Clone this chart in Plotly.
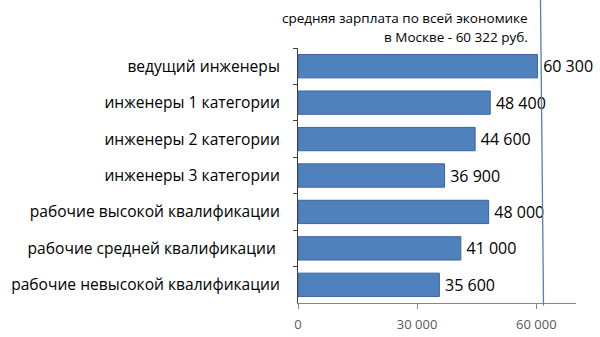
import plotly.graph_objects as go

categories = [
    "ведущий инженеры",
    "инженеры 1 категории",
    "инженеры 2 категории",
    "инженеры 3 категории",
    "рабочие высокой квалификации",
    "рабочие средней квалификации ",
    "рабочие невысокой квалификации",
]
salaries = [60300, 48400, 44600, 36900, 48000, 41000, 35600]
value_labels = ["60 300", "48 400", "44 600", "36 900", "48 000", "41 000", "35 600"]
x_tickvals = [0, 30000, 60000]
x_ticktext = ["0", "30 000", "60 000"]
avg_salary = 60322
note_lines = ["средняя зарплата по всей экономике", "в Москве - 60 322 руб."]

FONT = "Open Sans"

fig = go.Figure(
    go.Bar(
        y=categories,
        x=salaries,
        orientation="h",
        marker=dict(color="#4F81BD", line=dict(color="#3B64A0", width=1)),
        text=value_labels,
        texttemplate="\u2009%{text}",
        textposition="outside",
        textfont=dict(family=FONT, size=16, color="#000000"),
        cliponaxis=False,
        hoverinfo="skip",
    )
)

# average salary line (slightly leaning, as drawn in original)
fig.add_shape(
    type="line", xref="x", yref="paper",
    x0=avg_salary + 1500, y0=-0.01, x1=avg_salary + 700, y1=1.25,
    line=dict(color="#5B7DB5", width=1.3),
)

fig.add_annotation(
    xref="paper", yref="paper", x=0.834, y=1.118, xanchor="right", yanchor="middle",
    text=note_lines[0], showarrow=False, font=dict(family=FONT, size=13.5, color="#000000"),
)
fig.add_annotation(
    xref="paper", yref="paper", x=0.834, y=1.044, xanchor="right", yanchor="middle",
    text=note_lines[1], showarrow=False, font=dict(family=FONT, size=13.5, color="#000000"),
)

fig.update_layout(
    width=600, height=337,
    margin=dict(l=298, r=24, t=48, b=34, autoexpand=False),
    paper_bgcolor="white", plot_bgcolor="white",
    bargap=0.36,
    showlegend=False,
    xaxis=dict(
        range=[0, 70000], tickvals=x_tickvals, ticktext=x_ticktext,
        showgrid=False, zeroline=False, showline=True, linecolor="#868686", linewidth=1,
        ticks="outside", ticklen=5, tickcolor="#868686", ticklabelstandoff=4,
        automargin=False,
        tickfont=dict(family=FONT, size=13, color="#595959"),
    ),
    yaxis=dict(
        autorange="reversed", showgrid=False, zeroline=False,
        showline=True, linecolor="#404040", linewidth=1,
        ticks="outside", ticklen=4, tickcolor="#404040", tickson="boundaries",
        ticklabelstandoff=14, automargin=False,
        tickfont=dict(family=FONT, size=15.6, color="#000000"),
    ),
)

fig.write_html("out.html")
